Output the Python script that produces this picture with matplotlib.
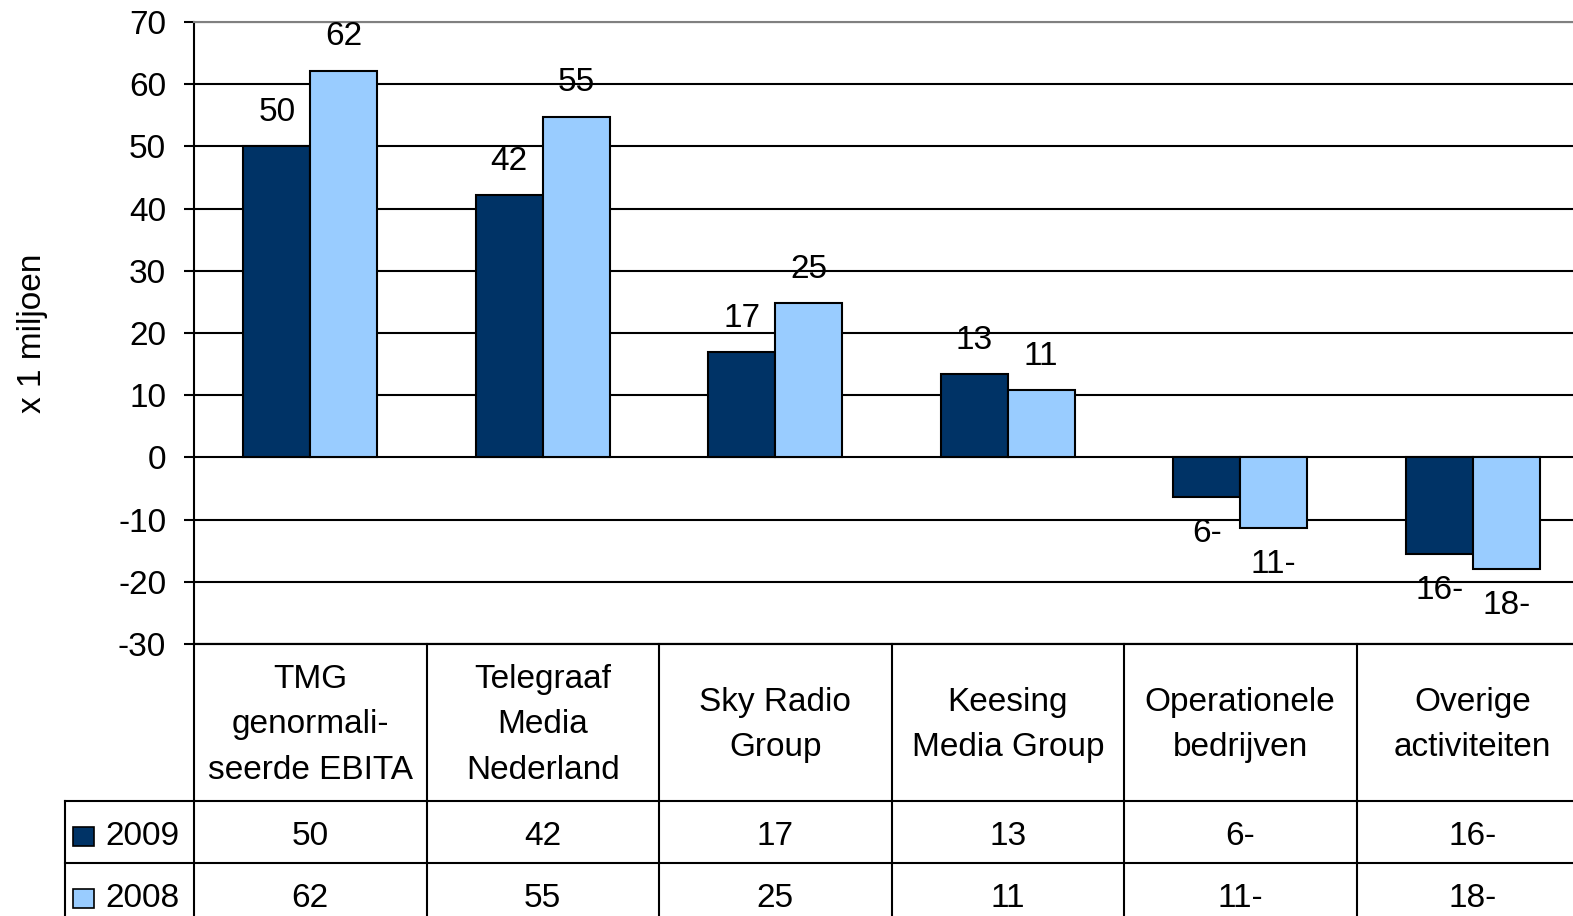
import matplotlib.pyplot as plt
import matplotlib.transforms as mtransforms

plt.rcParams['font.family'] = ['Liberation Sans', 'DejaVu Sans']
plt.rcParams['axes.unicode_minus'] = False

# data (x 1 miljoen)
categories = ['TMG\ngenormali-\nseerde EBITA', 'Telegraaf\nMedia\nNederland',
              'Sky Radio\nGroup', 'Keesing\nMedia Group', 'Operationele\nbedrijven',
              'Overige\nactiviteiten']
years = ['2009', '2008']
values_2009 = [50.0, 42.2, 16.9, 13.4, -6.4, -15.6]
values_2008 = [62.2, 54.8, 24.8, 10.8, -11.3, -17.9]
colors = ['#003366', '#99CCFF']
yticks = list(range(-30, 71, 10))


def fmt(v):
    # the source writes negatives with a trailing minus
    r = int(round(v))
    return f"{abs(r)}-" if r < 0 else str(r)


FS = 24
W, H = 1573, 916
fig = plt.figure(figsize=(W / 100, H / 100), dpi=100)
# plot area in pixels: x 194..1589 (cut at the right edge), y 22..644
ax = fig.add_axes([194 / W, (H - 644) / H, 1395 / W, 622 / H])

n = len(categories)
x = list(range(n))
bw = 0.288
series = [values_2009, values_2008]
for k, vals in enumerate(series):
    off = (k - 0.5) * bw
    bars = ax.bar([i + off for i in x], vals, bw, color=colors[k],
                  edgecolor='black', linewidth=1.5, zorder=3)
    for b, v in zip(bars, vals):
        cx = b.get_x() + b.get_width() / 2
        if v >= 0:
            ax.annotate(fmt(v), (cx, v), xytext=(0, 13), textcoords='offset points',
                        ha='center', va='bottom', fontsize=FS)
        else:
            ax.annotate(fmt(v), (cx, v), xytext=(0, -15), textcoords='offset points',
                        ha='center', va='top', fontsize=FS)

ax.set_xlim(-0.5, n - 0.5)
ax.set_ylim(-30, 70)
ax.set_yticks(yticks)
ax.set_xticks([])
ax.tick_params(axis='y', labelsize=FS, length=7, width=1.5, pad=13, direction='out')
ax.grid(axis='y', color='black', linewidth=1.5, zorder=1)
ax.set_axisbelow(True)
ax.spines['right'].set_visible(False)
ax.spines['top'].set_color('#808080')
ax.spines['top'].set_linewidth(1.5)
ax.spines['left'].set_linewidth(1.5)
ax.spines['bottom'].set_linewidth(1.5)
fig.text(33 / W, 1 - 333 / H, 'x 1 miljoen', rotation=90, ha='center', va='center',
         fontsize=FS)

# data table below the plot (x in data units, y in axes fraction)
tr = mtransforms.blended_transform_factory(ax.transData, ax.transAxes)
ph = 622.0
y_top = 0.0
y_head = -(801 - 644) / ph
y_r1 = -(863 - 644) / ph
y_r2 = -(925 - 644) / ph
x_leg = -0.5 - (194 - 65) / 232.5
lw = 1.5

# horizontal lines
ax.plot([-0.5, n - 0.5], [y_top, y_top], transform=tr, color='black', lw=lw, clip_on=False)
for yy in [y_head, y_r1, y_r2]:
    ax.plot([x_leg, n - 0.5], [yy, yy], transform=tr, color='black', lw=lw, clip_on=False)
# vertical lines
for i in range(n + 1):
    ax.plot([i - 0.5, i - 0.5], [y_top, y_r2], transform=tr, color='black', lw=lw, clip_on=False)
ax.plot([x_leg, x_leg], [y_head, y_r2], transform=tr, color='black', lw=lw, clip_on=False)

for i, c in enumerate(categories):
    ax.text(i, (y_top + y_head) / 2 - 0.004, c, transform=tr, ha='center', va='center',
            fontsize=FS, linespacing=1.6, clip_on=False)

rows_y = [(y_head + y_r1) / 2 - 0.008, (y_r1 + y_r2) / 2 - 0.008]
for k, vals in enumerate(series):
    for i, v in enumerate(vals):
        ax.text(i, rows_y[k], fmt(v), transform=tr, ha='center', va='center',
                fontsize=FS, clip_on=False)
    # legend key and year label
    ax.add_patch(plt.Rectangle((x_leg + 0.034, rows_y[k] - 0.0152), 0.09, 0.0305,
                               transform=tr, facecolor=colors[k], edgecolor='black',
                               lw=1.2, clip_on=False))
    ax.text(x_leg + 0.172, rows_y[k], years[k], transform=tr, ha='left', va='center',
            fontsize=FS, clip_on=False)

fig.savefig('out.png', dpi=100)
